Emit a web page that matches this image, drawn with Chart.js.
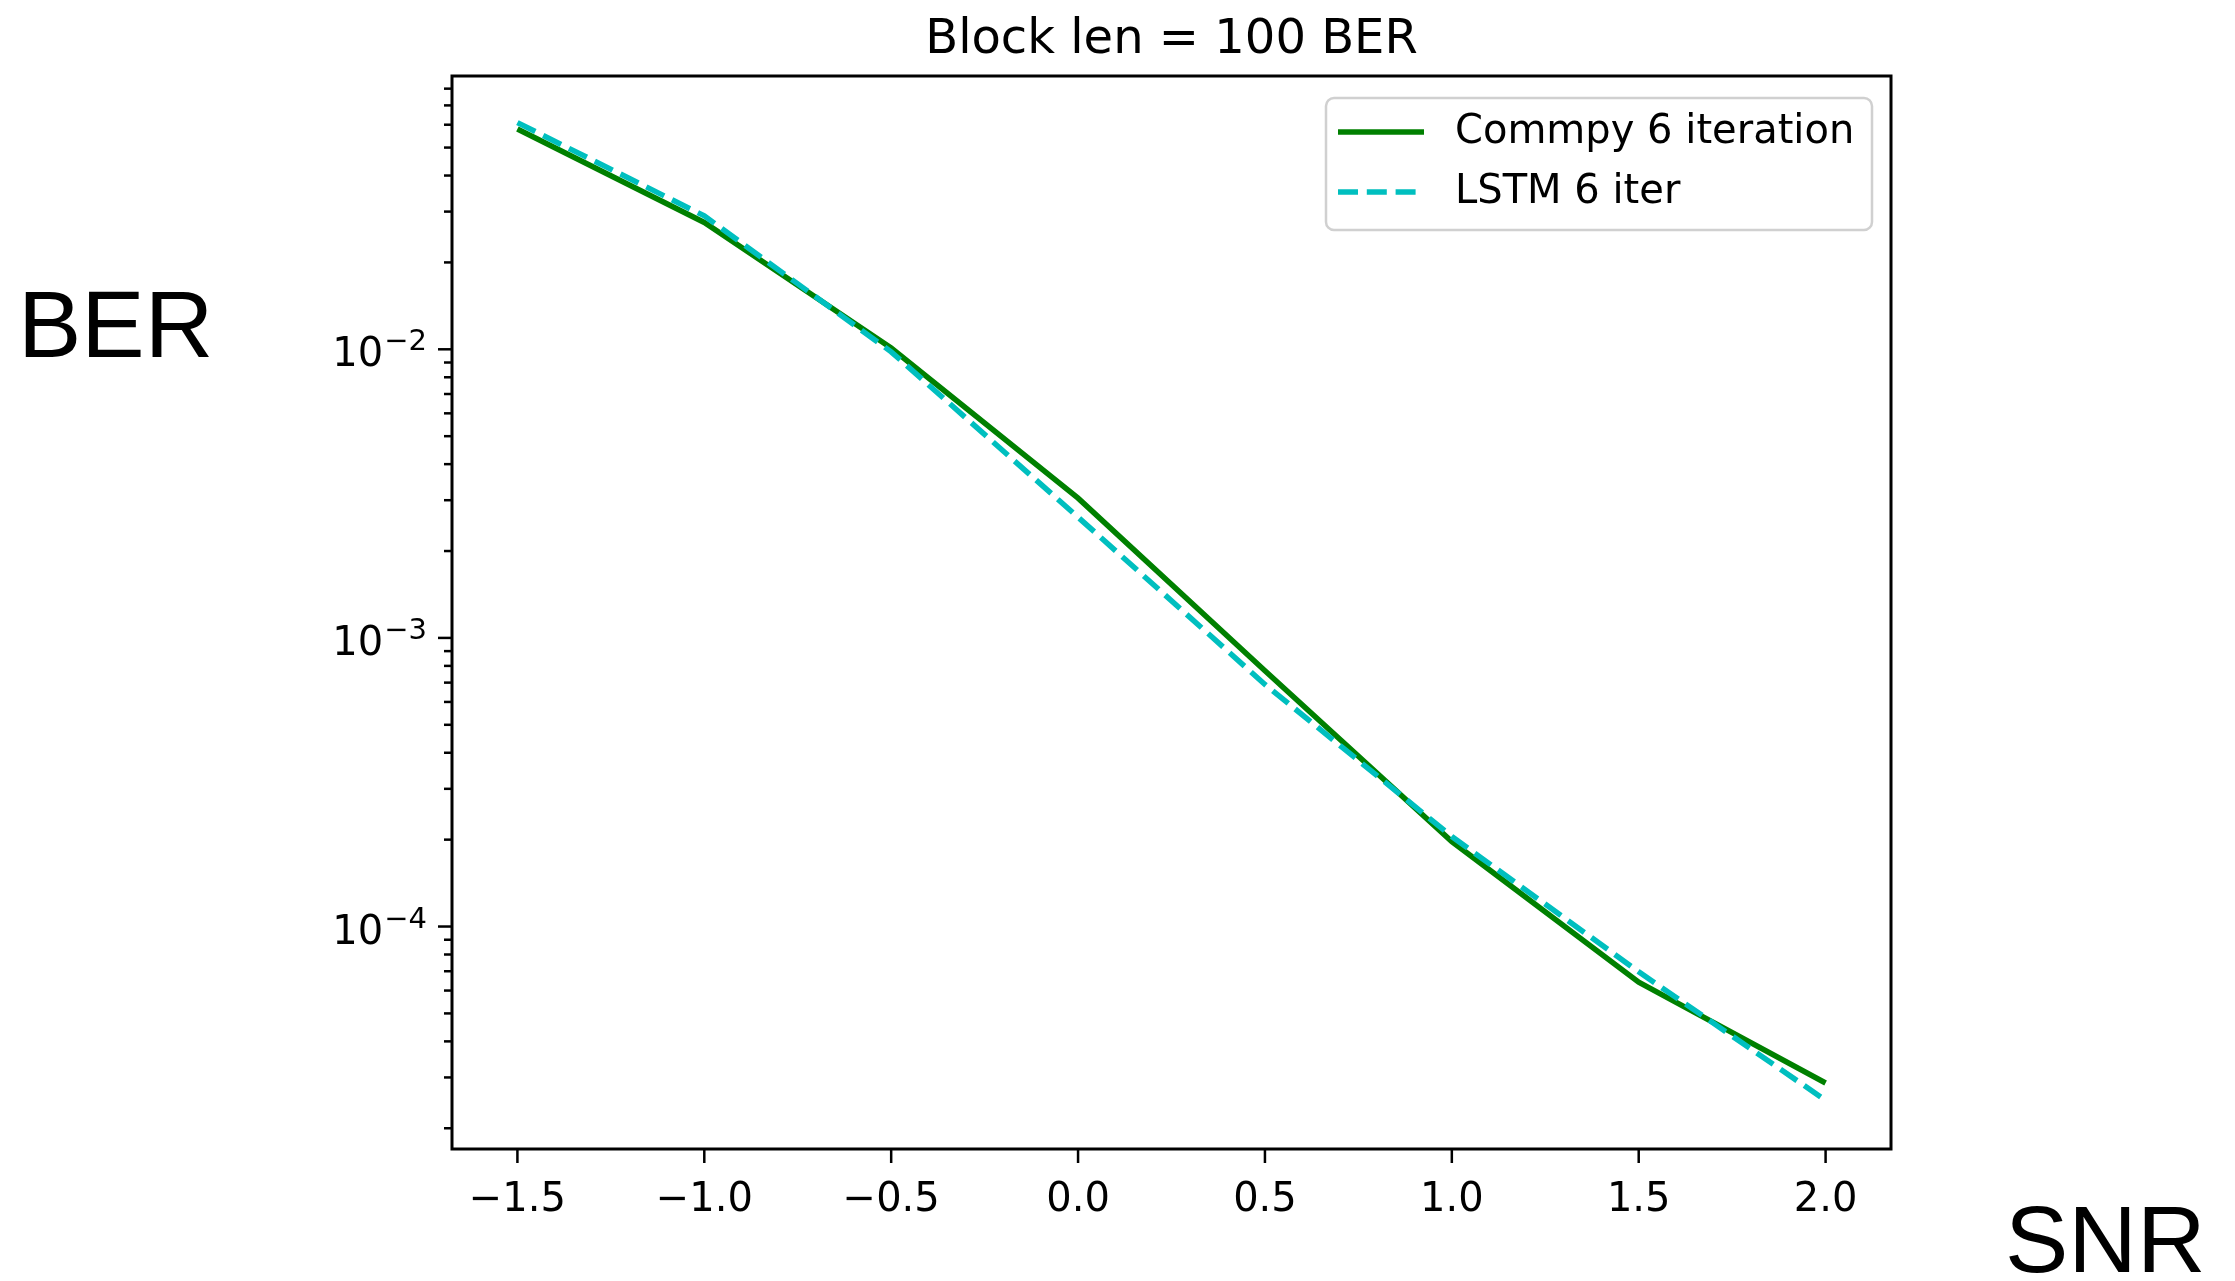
<!DOCTYPE html>
<html>
<head>
<meta charset="utf-8">
<script src="https://cdn.jsdelivr.net/npm/chart.js@4.4.1/dist/chart.umd.min.js"></script>
<style>
  html, body { margin: 0; padding: 0; background: #fff; }
  .wrap { position: relative; width: 2235px; height: 1281px; }
</style>
</head>
<body>
<div class="wrap"><canvas id="myChart"></canvas></div>
<script>
// SNR points (x) and BER values
const snr = [-1.5, -1.0, -0.5, 0.0, 0.5, 1.0, 1.5, 2.0];
const commpyBer = [0.058, 0.0275, 0.0101, 0.00305, 0.00077, 0.000197, 0.0000642, 0.0000287];
const lstmBer = [0.061, 0.029, 0.0098, 0.00262, 0.00069, 0.000205, 0.0000697, 0.000025];

const xTicks = [-1.5, -1.0, -0.5, 0.0, 0.5, 1.0, 1.5, 2.0];
const xTickLabels = ["\u22121.5", "\u22121.0", "\u22120.5", "0.0", "0.5", "1.0", "1.5", "2.0"];
const yMajorExps = [-2, -3, -4];

const FONT = "'DejaVu Sans', sans-serif";

// draws the frame, ticks, labels, title and legend the matplotlib way
const axesPlugin = {
  id: "axesPlugin",
  afterDraw(chart) {
    const ctx = chart.ctx;
    const a = chart.chartArea;
    const xs = chart.scales.x;
    const ys = chart.scales.y;
    ctx.save();
    ctx.strokeStyle = "#000";
    ctx.fillStyle = "#000";

    // frame
    ctx.lineWidth = 3;
    ctx.strokeRect(a.left, a.top, a.right - a.left, a.bottom - a.top);

    // x ticks + labels
    ctx.lineWidth = 2.5;
    ctx.font = "40px " + FONT;
    ctx.textAlign = "center";
    ctx.textBaseline = "alphabetic";
    xTicks.forEach((v, i) => {
      const px = xs.getPixelForValue(v);
      ctx.beginPath();
      ctx.moveTo(px, a.bottom);
      ctx.lineTo(px, a.bottom + 14);
      ctx.stroke();
      ctx.fillText(xTickLabels[i], px, a.bottom + 62);
    });

    // y ticks (major + minor) on log axis
    for (let e = -6; e <= 0; e++) {
      for (let m = 1; m <= 9; m++) {
        const v = m * Math.pow(10, e);
        if (v < ys.min || v > ys.max) continue;
        const py = ys.getPixelForValue(v);
        ctx.beginPath();
        ctx.moveTo(a.left, py);
        ctx.lineTo(a.left - (m === 1 ? 14 : 8), py);
        ctx.stroke();
      }
    }
    // y labels 10^n
    yMajorExps.forEach((e) => {
      const py = ys.getPixelForValue(Math.pow(10, e));
      ctx.textAlign = "left";
      ctx.font = "29px " + FONT;
      const expTxt = "\u2212" + Math.abs(e);
      const expW = ctx.measureText(expTxt).width;
      ctx.font = "40px " + FONT;
      const baseW = ctx.measureText("10").width;
      const right = a.left - 25;
      const x0 = right - expW - baseW - 1;
      ctx.fillText("10", x0, py + 17);
      ctx.font = "29px " + FONT;
      ctx.fillText(expTxt, x0 + baseW + 1, py + 1);
    });

    // title
    ctx.font = "48px " + FONT;
    ctx.textAlign = "center";
    ctx.fillText("Block len = 100 BER", (a.left + a.right) / 2, 53);

    // big axis words
    ctx.font = "95px 'Liberation Sans', Arial, sans-serif";
    ctx.textAlign = "left";
    ctx.fillText("BER", 18, 357);
    ctx.fillText("SNR", 2005, 1272);

    // legend
    const lx = 1326, ly = 98, lw = 546, lh = 132;
    ctx.beginPath();
    ctx.roundRect(lx, ly, lw, lh, 8);
    ctx.fillStyle = "rgba(255,255,255,0.8)";
    ctx.fill();
    ctx.strokeStyle = "#d0d0d0";
    ctx.lineWidth = 2.5;
    ctx.stroke();
    const rows = [132, 192];
    chart.data.datasets.forEach((ds, i) => {
      ctx.beginPath();
      ctx.strokeStyle = ds.borderColor;
      ctx.lineWidth = ds.borderWidth;
      ctx.setLineDash(ds.borderDash || []);
      ctx.moveTo(1338, rows[i]);
      ctx.lineTo(1424, rows[i]);
      ctx.stroke();
      ctx.setLineDash([]);
      ctx.fillStyle = "#000";
      ctx.font = "40px " + FONT;
      ctx.textBaseline = "middle";
      ctx.fillText(ds.label, 1455, rows[i] + 1);
      ctx.textBaseline = "alphabetic";
    });
    ctx.restore();
  },
};

document.addEventListener("DOMContentLoaded", function () {
  const ctx = document.getElementById("myChart").getContext("2d");
  const data = {
    datasets: [
      {
        label: "Commpy 6 iteration",
        data: snr.map((x, i) => ({ x: x, y: commpyBer[i] })),
        borderColor: "#008000",
        backgroundColor: "#008000",
        borderWidth: 5.5,
        pointRadius: 0,
        fill: false,
        tension: 0,
        order: 1,
      },
      {
        label: "LSTM 6 iter",
        data: snr.map((x, i) => ({ x: x, y: lstmBer[i] })),
        borderColor: "#00BFBF",
        backgroundColor: "#00BFBF",
        borderWidth: 5.5,
        borderDash: [20, 8.8],
        pointRadius: 0,
        fill: false,
        tension: 0,
        order: 0,
      },
    ],
  };

  const options = {
    responsive: true,
    maintainAspectRatio: false,
    animation: false,
    layout: { padding: { left: 452, right: 344, top: 76, bottom: 132 } },
    scales: {
      x: { type: "linear", display: false, min: -1.675, max: 2.175 },
      y: { type: "logarithmic", display: false, min: 1.695e-5, max: 0.0885 },
    },
    plugins: {
      legend: { display: false },
      title: { display: false },
      tooltip: { enabled: false },
    },
  };

  new Chart(ctx, {
    type: "line",
    data: data,
    options: options,
    plugins: [axesPlugin],
  });
});
</script>
</body>
</html>
